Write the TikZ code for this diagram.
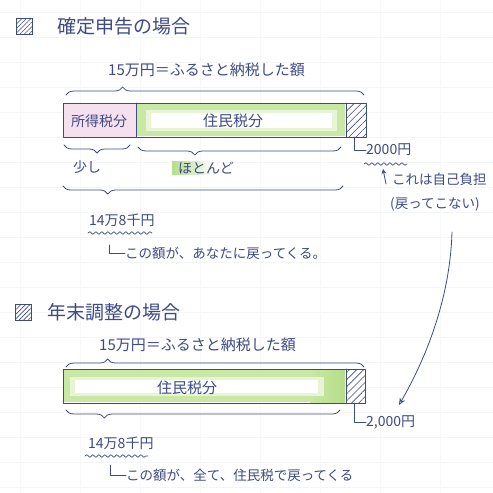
\documentclass[tikz,border=0pt]{standalone}
\usepackage{fontspec}
\setmainfont{Noto Sans CJK JP}
\usetikzlibrary{decorations.pathreplacing,decorations.pathmorphing,patterns.meta,arrows.meta,calc}
\definecolor{ink}{HTML}{3E4A85}
\definecolor{hl}{HTML}{C9E8A4}
\definecolor{hldark}{HTML}{B5DD8A}
\definecolor{pinkbg}{HTML}{F5E0EE}
\definecolor{gridc}{HTML}{F3F5F7}
\newcommand\myfs[1]{\fontsize{#1}{#1}\selectfont}
\tikzset{
  lbl/.style={text=ink, inner sep=0pt},
  inkline/.style={draw=ink, line width=0.8pt, line cap=round, line join=round},
  bracetop/.style={inkline, decorate, decoration={brace, amplitude=8pt, aspect=#1}},
  bracebot/.style={inkline, decorate, decoration={brace, mirror, amplitude=8pt, aspect=#1}},
  wavy/.style={inkline, line width=0.7pt, decorate, decoration={snake, segment length=6pt, amplitude=1.3pt}},
  hatch/.style={pattern={Lines[angle=45,distance=5pt,line width=0.6pt]}, pattern color=ink},
  icon/.style={draw=ink, line width=0.9pt, pattern={Lines[angle=45,distance=3.2pt,line width=0.6pt]}, pattern color=ink, minimum size=16pt, inner sep=0pt},
}
\begin{document}
\begin{tikzpicture}[x=1pt,y=-1pt]
\useasboundingbox (0,0) rectangle (493,493);
\fill[white] (0,0) rectangle (493,493);
\foreach \yy in {12,37,62,87,112,137,162,187,212,237,262,287,312,337,362,387,412,437,462,487}
  \draw[gridc, line width=0.5pt] (0,\yy) -- (493,\yy);
\foreach \xx in {20,80,140,200,260,320,380,440}
  \draw[gridc!70!white, line width=0.4pt] (\xx,0) -- (\xx,493);

% ===== Section 1 =====
\node[icon] (ic1) at (24,26) {};
\node[lbl, anchor=west, font=\myfs{19}] (title1) at (57,26) {確定申告の場合};
\node[lbl, anchor=west, font=\myfs{15}] (total1) at (108,70) {15万円＝ふるさと納税した額};
\draw[bracetop=0.19] (66,95) -- (364,95);

% bar 1
\fill[pinkbg] (63,103) rectangle (136,137);
\fill[hl] (137,104) rectangle (345,136);
\fill[hl!45!white] (146,110) rectangle (337,131);
\fill[white] (151,113) rectangle (332,128);
\fill[hatch] (346,103) rectangle (366,137);
\draw[inkline] (63,103) rectangle (366,137);
\draw[inkline] (136,103) -- (136,137);
\draw[inkline] (346,103) -- (346,137);
\node[lbl, font=\myfs{14}] (shotoku1) at (99,121) {所得税分};
\node[lbl, font=\myfs{15}] (jumin1) at (233,121) {住民税分};
\coordinate (hb1) at (354,137);

% small braces
\draw[bracebot=0.5] (64,145) -- (130,145);
\draw[bracebot=0.28] (138,147) -- (341,147);
\node[lbl, anchor=west, font=\myfs{14}] (sukoshi) at (73,167) {少し};
\shade[left color=hldark, right color=white] (172,161) rectangle (215,174);
\node[lbl, anchor=west, font=\myfs{14}] (hotondo) at (178,168) {ほとんど};

% big brace
\draw[bracebot=0.16] (63,186) -- (343,186);
\node[lbl, anchor=west, font=\myfs{14}] (amt1) at (89,220) {14万8千円};
\draw[wavy] (88,233) -- (152,233);
\coordinate (lc1) at (109,245);
\node[lbl, anchor=west, font=\myfs{13.5}] (back1) at (125,253) {この額が、あなたに戻ってくる。};
\draw[inkline] (lc1) |- (back1.west);

% 2000 yen
\node[lbl, anchor=west, font=\myfs{14}] (y2000a) at (366,150) {2000円};
\draw[inkline] (hb1) |- (y2000a.west);
\draw[wavy] (364,164) -- (407,164);
\coordinate (arrS) at (386,184);
\coordinate (arrE) at (383,169);
\draw[inkline, -{Stealth[length=5pt,width=5pt]}] (arrS) -- (arrE);
\node[lbl, anchor=west, font=\myfs{13.5}] (jiko) at (392,179) {これは自己負担};
\node[lbl, anchor=west, font=\myfs{13.5}] (modora) at (390,204) {(戻ってこない)};

% ===== Section 2 =====
\node[icon] (ic2) at (23,312) {};
\node[lbl, anchor=west, font=\myfs{19}] (title2) at (47,312) {年末調整の場合};
\node[lbl, anchor=west, font=\myfs{15}] (total2) at (99,345) {15万円＝ふるさと納税した額};
\draw[bracetop=0.14] (66,367) -- (364,367);

% bar 2
\fill[hl] (64,370) rectangle (345,402);
\shade[left color=hl, right color=hldark] (310,370) rectangle (345,402);
\fill[hl!45!white] (70,377) rectangle (324,396);
\fill[white] (75,380) rectangle (318,393);
\fill[hatch] (346,369) rectangle (365,403);
\draw[inkline] (63,369) rectangle (365,403);
\draw[inkline] (346,369) -- (346,403);
\node[lbl, font=\myfs{15}] (jumin2) at (187,388) {住民税分};
\coordinate (hb2) at (354,403);

\draw[bracebot=0.14] (66,410) -- (340,410);
\node[lbl, anchor=west, font=\myfs{14}] (amt2) at (88,443) {14万8千円};
\draw[wavy] (85,456) -- (148,456);
\coordinate (lc2) at (110,465);
\node[lbl, anchor=west, font=\myfs{13.5}] (back2) at (126,475) {この額が、全て、住民税で戻ってくる};
\draw[inkline] (lc2) |- (back2.west);

\node[lbl, anchor=west, font=\myfs{14}] (y2000b) at (366,422) {2,000円};
\draw[inkline] (hb2) |- (y2000b.west);

% long arrow
\coordinate (longS) at (452,232);
\draw[inkline, -{Stealth[length=7pt,width=6pt,open]}] (longS) .. controls (450,300) and (425,360) .. (399,405);
\end{tikzpicture}
\end{document}
